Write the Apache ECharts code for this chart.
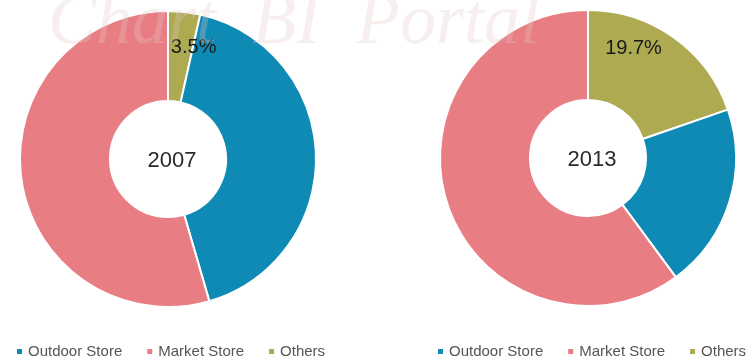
<!DOCTYPE html>
<html>
<head>
<meta charset="utf-8">
<script src="https://cdn.jsdelivr.net/npm/echarts@6/dist/echarts.min.js"></script>
<style>html,body{margin:0;padding:0;background:#fff;}#c{width:746px;height:362px;}</style>
</head>
<body>
<div id="c"></div>
<script>
const categories = ['Outdoor Store', 'Market Store', 'Others'];
const values2007 = [42.0, 54.5, 3.5];
const values2013 = [20.2, 60.1, 19.7];
const years = ['2007', '2013'];
const colors = ['#0e8ab5', '#e87d84', '#adaa52'];
const drawOrder = [2, 0, 1]; // clockwise from 12 o'clock: Others, Outdoor, Market

const chart = echarts.init(document.getElementById('c'), null, {renderer: 'canvas'});
const FONT = 'Liberation Sans, Arial, sans-serif';
const centers = [[168, 159], [588, 158]];
const labelShift = [[14, -6], [-16, -23]];

function buildData(vals) {
  return drawOrder.map(i => ({
    name: categories[i],
    value: vals[i],
    itemStyle: {color: colors[i]},
    label: {show: i === 2}
  }));
}

const series = [values2007, values2013].map((vals, k) => ({
  type: 'pie',
  name: years[k],
  center: centers[k],
  radius: [58, 148],
  startAngle: 90,
  clockwise: true,
  avoidLabelOverlap: false,
  itemStyle: {borderColor: '#fff', borderWidth: 2},
  label: {
    position: 'inside',
    formatter: '{c}%',
    color: '#1a1a1a',
    fontSize: 20,
    fontFamily: FONT
  },
  labelLayout: () => ({dx: labelShift[k][0], dy: labelShift[k][1]}),
  emphasis: {disabled: true},
  silent: true,
  animation: false,
  data: buildData(vals)
}));

const legendBase = {
  data: categories,
  orient: 'horizontal',
  top: 344,
  padding: 0,
  itemWidth: 7,
  itemHeight: 7,
  itemGap: 23,
  itemTextGap: 3,
  icon: 'rect',
  textStyle: {fontSize: 15, color: '#555', fontFamily: FONT}
};

chart.setOption({
  backgroundColor: '#fff',
  animation: false,
  legend: [
    Object.assign({}, legendBase, {left: 15, width: 400}),
    Object.assign({}, legendBase, {left: 436, width: 400})
  ],
  graphic: [
    {
      type: 'text', z: 100, x: 48, y: -12,
      style: {text: 'Chart  BI  Portal', font: 'italic 72px "Liberation Serif", serif', fill: 'rgba(230,200,200,0.3)'}
    },
    ...years.map((y, k) => ({
      type: 'text', z: 50, x: centers[k][0] + 4, y: centers[k][1] + 2,
      style: {text: y, font: '22px ' + FONT, fill: '#2a2a2a', textAlign: 'center', textVerticalAlign: 'middle'}
    }))
  ],
  series: series
});
</script>
</body>
</html>
